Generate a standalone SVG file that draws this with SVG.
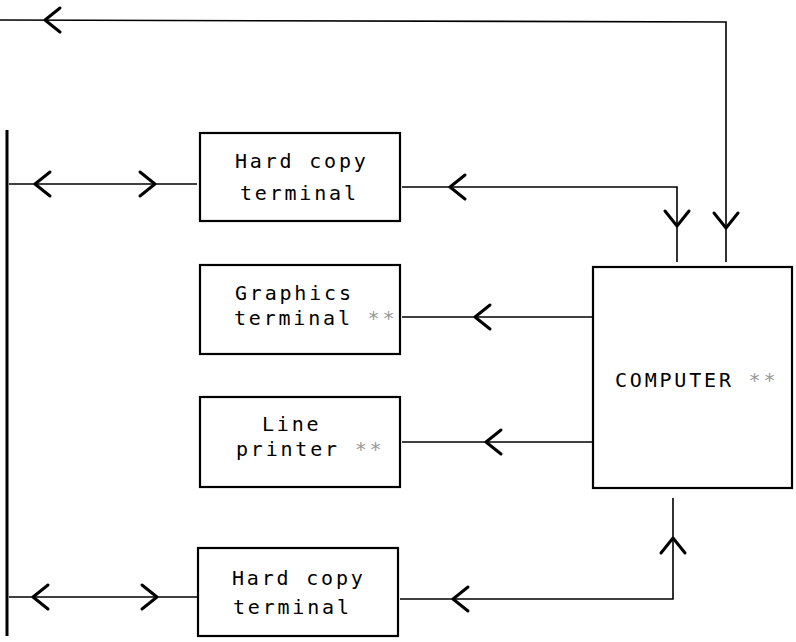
<svg xmlns="http://www.w3.org/2000/svg" width="796" height="642" viewBox="0 0 796 642">
<style>
.box{fill:#fff;stroke:#000;stroke-width:2.2}
.ln{fill:none;stroke:#000;stroke-width:1.6}
.bar{fill:none;stroke:#000;stroke-width:3}
.ch{fill:none;stroke:#000;stroke-width:3;stroke-linecap:round;stroke-linejoin:round}
.t{font-family:"DejaVu Sans Mono","Liberation Mono",monospace;font-size:20px;letter-spacing:2.8px;fill:#000}
.st{fill:#999}
</style>
<defs>
<path id="chev" class="ch" d="M15,-12 L0,0 L15,12"/>
</defs>
<g id="connectors">
<polyline class="ln" points="0,20 726,22 726,262"/>
<line class="bar" x1="7" y1="130" x2="7" y2="636"/>
<line class="ln" x1="9" y1="184" x2="197" y2="184"/>
<polyline class="ln" points="402,187 677,187 677,262"/>
<line class="ln" x1="402" y1="317" x2="593" y2="317"/>
<line class="ln" x1="402" y1="442" x2="593" y2="442"/>
<line class="ln" x1="9" y1="597" x2="197" y2="597"/>
<polyline class="ln" points="400,599 673,599 673,498"/>
<use href="#chev" transform="translate(45,20)"/>
<use href="#chev" transform="translate(35,184)"/>
<use href="#chev" transform="translate(155,184) rotate(180)"/>
<use href="#chev" transform="translate(450,187)"/>
<use href="#chev" transform="translate(677,226) rotate(-90)" style="stroke-width:2.2"/>
<use href="#chev" transform="translate(726,228) rotate(-90)"/>
<use href="#chev" transform="translate(475,317)" style="stroke-width:2"/>
<use href="#chev" transform="translate(486,442)"/>
<use href="#chev" transform="translate(33,597)"/>
<use href="#chev" transform="translate(157,597) rotate(180)"/>
<use href="#chev" transform="translate(453,599)" style="stroke-width:2.2"/>
<use href="#chev" transform="translate(673,538) rotate(90)"/>
</g>
<g id="hardcopy1">
<rect class="box" x="200" y="133" width="200" height="88"/>
<text class="t" x="235" y="168">Hard copy</text>
<text class="t" x="240" y="200">terminal</text>
</g>
<g id="graphics">
<rect class="box" x="200" y="265" width="200" height="89"/>
<text class="t" x="235" y="300">Graphics</text>
<text class="t" x="234" y="325">terminal <tspan class="st">**</tspan></text>
</g>
<g id="lineprinter">
<rect class="box" x="200" y="397" width="200" height="90"/>
<text class="t" x="262" y="431">Line</text>
<text class="t" x="236" y="456">printer <tspan class="st">**</tspan></text>
</g>
<g id="hardcopy2">
<rect class="box" x="198" y="548" width="200" height="88"/>
<text class="t" x="232" y="585">Hard copy</text>
<text class="t" x="233" y="614">terminal</text>
</g>
<g id="computer">
<rect class="box" x="593" y="267" width="199" height="221"/>
<text class="t" x="615" y="387">COMPUTER <tspan class="st">**</tspan></text>
</g>
</svg>
